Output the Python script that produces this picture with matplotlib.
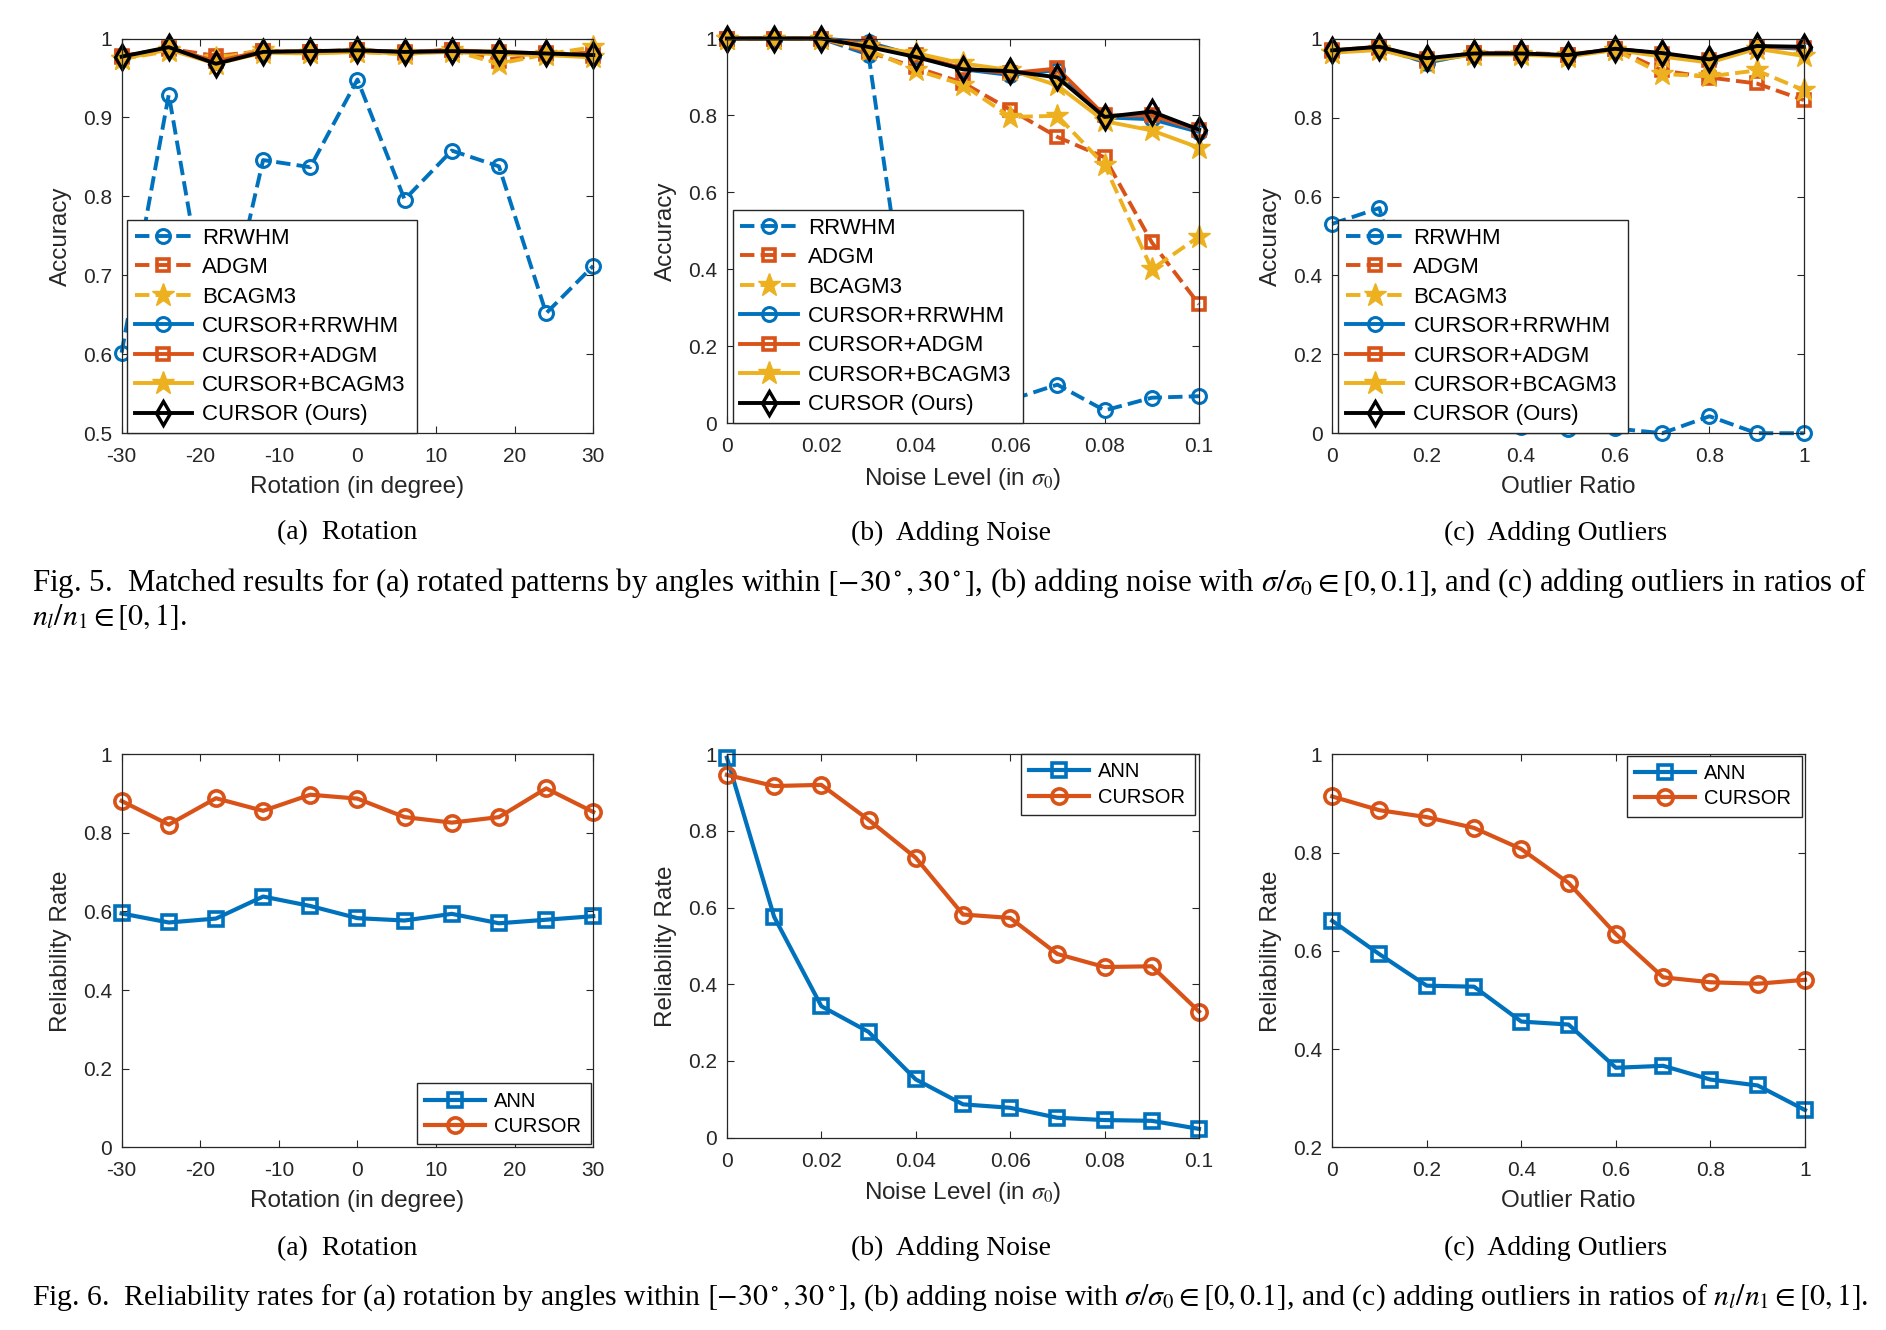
import matplotlib
matplotlib.use('Agg')
import matplotlib.pyplot as plt

plt.rcParams['font.family'] = 'Liberation Sans'
plt.rcParams['mathtext.fontset'] = 'stix'
plt.rcParams['axes.unicode_minus'] = False

# ---- Fig. 5 data (accuracy) ----
rot_x = [-30, -24, -18, -12, -6, 0, 6, 12, 18, 24, 30]
rot_rrwhm = [0.602, 0.929, 0.585, 0.846, 0.837, 0.948, 0.796, 0.858, 0.838, 0.652, 0.712]
rot_adgm = [0.978, 0.987, 0.978, 0.984, 0.983, 0.986, 0.982, 0.986, 0.972, 0.980, 0.982]
rot_bcagm3 = [0.974, 0.984, 0.975, 0.985, 0.982, 0.983, 0.980, 0.985, 0.968, 0.980, 0.989]
rot_c_rrwhm = [0.976, 0.988, 0.970, 0.983, 0.983, 0.985, 0.983, 0.985, 0.982, 0.981, 0.978]
rot_c_adgm = [0.977, 0.988, 0.971, 0.984, 0.983, 0.985, 0.983, 0.985, 0.983, 0.981, 0.978]
rot_c_bcagm3 = [0.974, 0.986, 0.968, 0.982, 0.981, 0.983, 0.981, 0.983, 0.980, 0.979, 0.976]
rot_cursor = [0.977, 0.989, 0.968, 0.983, 0.984, 0.985, 0.983, 0.984, 0.983, 0.981, 0.979]

noise_x = [0, 0.01, 0.02, 0.03, 0.04, 0.05, 0.06, 0.07, 0.08, 0.09, 0.1]
noise_rrwhm = [1.0, 1.0, 1.0, 0.958, 0.10, 0.08, 0.06, 0.100, 0.033, 0.066, 0.070]
noise_adgm = [1.0, 1.0, 1.0, 0.965, 0.925, 0.885, 0.815, 0.744, 0.691, 0.470, 0.309]
noise_bcagm3 = [1.0, 1.0, 1.0, 0.970, 0.918, 0.880, 0.796, 0.799, 0.671, 0.400, 0.485]
noise_c_rrwhm = [1.0, 1.0, 1.0, 0.990, 0.955, 0.920, 0.905, 0.918, 0.795, 0.790, 0.757]
noise_c_adgm = [1.0, 1.0, 1.0, 0.985, 0.957, 0.922, 0.910, 0.922, 0.800, 0.800, 0.762]
noise_c_bcagm3 = [1.0, 1.0, 1.0, 0.980, 0.962, 0.935, 0.918, 0.878, 0.785, 0.761, 0.716]
noise_cursor = [1.0, 1.0, 1.0, 0.978, 0.952, 0.920, 0.915, 0.899, 0.796, 0.810, 0.763]

out_x = [0, 0.1, 0.2, 0.3, 0.4, 0.5, 0.6, 0.7, 0.8, 0.9, 1.0]
out_rrwhm = [0.531, 0.571, 0.15, 0.05, 0.015, 0.01, 0.012, 0.0, 0.043, 0.0, 0.0]
out_adgm = [0.970, 0.978, 0.945, 0.965, 0.965, 0.960, 0.975, 0.920, 0.902, 0.887, 0.845]
out_bcagm3 = [0.965, 0.975, 0.940, 0.962, 0.962, 0.958, 0.972, 0.911, 0.905, 0.920, 0.870]
out_c_rrwhm = [0.970, 0.978, 0.940, 0.963, 0.963, 0.958, 0.975, 0.962, 0.945, 0.980, 0.975]
out_c_adgm = [0.971, 0.980, 0.948, 0.963, 0.963, 0.958, 0.975, 0.962, 0.946, 0.980, 0.978]
out_c_bcagm3 = [0.965, 0.972, 0.945, 0.960, 0.960, 0.955, 0.972, 0.955, 0.940, 0.975, 0.957]
out_cursor = [0.971, 0.980, 0.951, 0.963, 0.963, 0.959, 0.975, 0.964, 0.948, 0.982, 0.980]

# ---- Fig. 6 data (reliability) ----
rel_rot_ann = [0.595, 0.572, 0.582, 0.638, 0.614, 0.583, 0.577, 0.594, 0.570, 0.579, 0.588]
rel_rot_cursor = [0.881, 0.821, 0.888, 0.856, 0.897, 0.887, 0.840, 0.826, 0.840, 0.913, 0.853]
rel_noise_ann = [0.991, 0.576, 0.343, 0.276, 0.152, 0.087, 0.078, 0.052, 0.046, 0.044, 0.023]
rel_noise_cursor = [0.946, 0.917, 0.920, 0.829, 0.730, 0.582, 0.573, 0.479, 0.445, 0.447, 0.329]
rel_out_ann = [0.661, 0.593, 0.529, 0.527, 0.456, 0.450, 0.362, 0.366, 0.338, 0.326, 0.276]
rel_out_cursor = [0.914, 0.886, 0.872, 0.850, 0.807, 0.738, 0.634, 0.546, 0.536, 0.533, 0.541]

methods = ['RRWHM', 'ADGM', 'BCAGM3', 'CURSOR+RRWHM', 'CURSOR+ADGM', 'CURSOR+BCAGM3', 'CURSOR (Ours)']

rot_ticks = [-30, -20, -10, 0, 10, 20, 30]
rot_ticklabels = ['-30', '-20', '-10', '0', '10', '20', '30']
noise_ticks = [0, 0.02, 0.04, 0.06, 0.08, 0.1]
noise_ticklabels = ['0', '0.02', '0.04', '0.06', '0.08', '0.1']
ratio_ticks = [0, 0.2, 0.4, 0.6, 0.8, 1.0]
ratio_ticklabels = ['0', '0.2', '0.4', '0.6', '0.8', '1']
acc_rot_ticks = [0.5, 0.6, 0.7, 0.8, 0.9, 1.0]
acc_rot_ticklabels = ['0.5', '0.6', '0.7', '0.8', '0.9', '1']
rel_out_ticks = [0.2, 0.4, 0.6, 0.8, 1.0]
rel_out_ticklabels = ['0.2', '0.4', '0.6', '0.8', '1']

BLUE = '#0072BD'
ORANGE = '#D95319'
YELLOW = '#EDB120'
AXC = '#262626'

W, H = 1886, 1330
fig = plt.figure(figsize=(W / 100, H / 100), dpi=100)
fig.patch.set_facecolor('white')


def axes_px(l, t, r, b):
    return fig.add_axes([l / W, 1 - b / H, (r - l) / W, (b - t) / H])


def setup(ax, xlim, ylim, xt, xtl, yt, ytl, xlabel, ylabel):
    ax.set_xlim(xlim)
    ax.set_ylim(ylim)
    ax.set_xticks(xt)
    ax.set_xticklabels(xtl)
    ax.set_yticks(yt)
    ax.set_yticklabels(ytl)
    ax.tick_params(direction='in', top=True, right=True, length=5, width=0.8,
                   labelsize=15, colors=AXC, labelcolor=AXC)
    ax.tick_params(axis='x', pad=10)
    ax.tick_params(axis='y', pad=7)
    for s in ax.spines.values():
        s.set_color(AXC)
        s.set_linewidth(0.9)
    ax.set_xlabel(xlabel, fontsize=17.5, color=AXC, labelpad=7)
    ax.set_ylabel(ylabel, fontsize=17.5, color=AXC, labelpad=8)


def accuracy_panel(ax, x, series):
    st = [
        dict(color=BLUE, ls='--', marker='o', ms=10, mfc='none', mew=2.2),
        dict(color=ORANGE, ls='--', marker='s', ms=9, mfc='none', mew=2.6),
        dict(color=YELLOW, ls='--', marker='*', ms=17, mfc=YELLOW, mew=1),
        dict(color=BLUE, ls='-', marker='o', ms=10, mfc='none', mew=2.2),
        dict(color=ORANGE, ls='-', marker='s', ms=9, mfc='none', mew=2.6),
        dict(color=YELLOW, ls='-', marker='*', ms=17, mfc=YELLOW, mew=1),
        dict(color='black', ls='-', marker='d', ms=12, mfc='none', mew=2.4),
    ]
    for y, name, s in zip(series, methods, st):
        ax.plot(x, y, lw=2.8, label=name, clip_on=False, **s)


def acc_legend(ax, x0, w):
    leg = ax.legend(loc='lower left', bbox_to_anchor=(x0, 0.0, w, 0.5), mode='expand',
                    borderaxespad=0, fancybox=False, edgecolor=AXC, framealpha=1,
                    fontsize=16, labelspacing=0.38, handlelength=2.6, handletextpad=0.45,
                    borderpad=0.35, numpoints=1)
    leg.get_frame().set_linewidth(1.0)
    for t in leg.get_texts():
        t.set_color('black')


def rel_panel(ax, x, ann, cur):
    ax.plot(x, ann, color=BLUE, lw=3, marker='s', ms=10, mfc='none', mew=2.6, label='ANN', clip_on=False)
    ax.plot(x, cur, color=ORANGE, lw=3, marker='o', ms=11, mfc='none', mew=2.6, label='CURSOR', clip_on=False)


def rel_legend(ax, loc, anchor):
    leg = ax.legend(loc=loc, bbox_to_anchor=anchor, mode='expand', borderaxespad=0,
                    fancybox=False, edgecolor=AXC, framealpha=1, fontsize=14.5,
                    labelspacing=0.33, handlelength=3.0, handletextpad=0.45,
                    borderpad=0.4, numpoints=1)
    leg.get_frame().set_linewidth(1.0)


# ---- top row ----
ax = axes_px(121.6, 38.5, 593.3, 433.2)
accuracy_panel(ax, rot_x, [rot_rrwhm, rot_adgm, rot_bcagm3, rot_c_rrwhm, rot_c_adgm, rot_c_bcagm3, rot_cursor])
setup(ax, (-30, 30), (0.5, 1.0), rot_ticks, rot_ticklabels, acc_rot_ticks, acc_rot_ticklabels,
      'Rotation (in degree)', 'Accuracy')
acc_legend(ax, 0.011, 0.615)

ax = axes_px(726.9, 38.5, 1199.0, 423.1)
accuracy_panel(ax, noise_x, [noise_rrwhm, noise_adgm, noise_bcagm3, noise_c_rrwhm, noise_c_adgm, noise_c_bcagm3, noise_cursor])
setup(ax, (0, 0.1), (0, 1.0), noise_ticks, noise_ticklabels, ratio_ticks, ratio_ticklabels,
      r'Noise Level (in $\sigma_0$)', 'Accuracy')
acc_legend(ax, 0.012, 0.615)

ax = axes_px(1332.2, 38.9, 1803.8, 433.2)
accuracy_panel(ax, out_x, [out_rrwhm, out_adgm, out_bcagm3, out_c_rrwhm, out_c_adgm, out_c_bcagm3, out_cursor])
setup(ax, (0, 1.0), (0, 1.0), ratio_ticks, ratio_ticklabels, ratio_ticks, ratio_ticklabels,
      'Outlier Ratio', 'Accuracy')
acc_legend(ax, 0.012, 0.616)

# ---- bottom row ----
ax = axes_px(121.6, 754.2, 593.3, 1147.4)
rel_panel(ax, rot_x, rel_rot_ann, rel_rot_cursor)
setup(ax, (-30, 30), (0, 1.0), rot_ticks, rot_ticklabels, ratio_ticks, ratio_ticklabels,
      'Rotation (in degree)', 'Reliability Rate')
rel_legend(ax, 'lower left', (0.626, 0.008, 0.370, 0.2))

ax = axes_px(726.9, 754.2, 1199.0, 1137.7)
rel_panel(ax, noise_x, rel_noise_ann, rel_noise_cursor)
setup(ax, (0, 0.1), (0, 1.0), noise_ticks, noise_ticklabels, ratio_ticks, ratio_ticklabels,
      r'Noise Level (in $\sigma_0$)', 'Reliability Rate')
rel_legend(ax, 'upper left', (0.622, 0.8, 0.370, 0.2))

ax = axes_px(1332.2, 754.2, 1805.0, 1147.4)
rel_panel(ax, out_x, rel_out_ann, rel_out_cursor)
setup(ax, (0, 1.0), (0.2, 1.0), ratio_ticks, ratio_ticklabels, rel_out_ticks, rel_out_ticklabels,
      'Outlier Ratio', 'Reliability Rate')
rel_legend(ax, 'upper left', (0.623, 0.796, 0.371, 0.2))

# ---- captions ----
serif = 'Liberation Serif'
for cx, lab in [(347, '(a)  Rotation'), (951, '(b)  Adding Noise'), (1556, '(c)  Adding Outliers')]:
    fig.text(cx / W, 1 - 533 / H, lab, ha='center', va='center', fontsize=20, family=serif)
    fig.text(cx / W, 1 - 1248.6 / H, lab, ha='center', va='center', fontsize=20, family=serif)


def fit_text(x, y, s, width_px, size0=18):
    t = fig.text(x / W, 1 - y / H, s, ha='left', va='center', fontsize=size0, family=serif)
    fig.canvas.draw()
    bb = t.get_window_extent()
    t.set_fontsize(size0 * width_px / bb.width)
    return t.get_fontsize()


cap5a = (r'Fig. 5.  Matched results for (a) rotated patterns by angles within $[-30^\circ, 30^\circ]$, '
         r'(b) adding noise with $\sigma/\sigma_0 \in [0, 0.1]$, and (c) adding outliers in ratios of')
cap5b = r'$n_l/n_1 \in [0, 1]$.'
cap6 = (r'Fig. 6.  Reliability rates for (a) rotation by angles within $[-30^\circ, 30^\circ]$, '
        r'(b) adding noise with $\sigma/\sigma_0 \in [0, 0.1]$, and (c) adding outliers in ratios of '
        r'$n_l/n_1 \in [0, 1]$.')

fs = fit_text(32, 1298, cap6, 1836)
fit_text(32, 583, cap5a, 1836)
fig.text(32 / W, 1 - 617 / H, cap5b, ha='left', va='center', fontsize=fs, family=serif)

fig.savefig('out.png', dpi=100, facecolor='white')
